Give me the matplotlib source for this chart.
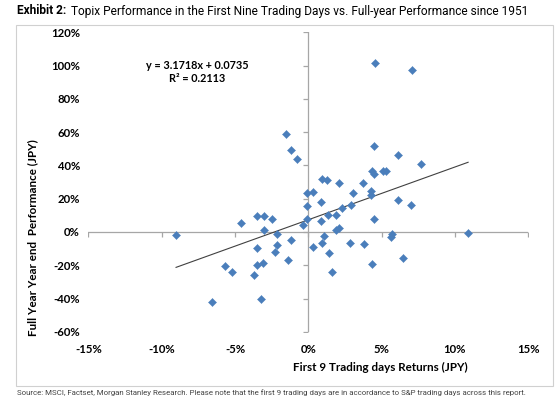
import numpy as np
import matplotlib
matplotlib.use("Agg")
import matplotlib.pyplot as plt
from matplotlib.patches import Rectangle

# First 9 trading days return (%) and full-year return (%)
first9_returns = [-9.02, -6.57, -5.66, -5.2, -4.57, -3.68, -3.52, -3.48, -3.48, -3.25,
                  -3.07, -3.0, -3.0, -2.5, -2.3, -2.16, -2.16, -1.52, -1.41, -1.2,
                  -1.2, -0.79, -0.34, -0.11, -0.11, -0.11,
                  0.34, 0.34, 0.85, 0.85, 0.91, 0.96, 1.07, 1.25, 1.36, 1.41,
                  1.6, 1.89, 1.9, 2.1, 2.12, 2.3, 2.84, 2.93, 3.07, 3.75,
                  3.8, 4.26, 4.3, 4.32, 4.32, 4.48, 4.48, 4.5, 4.55, 5.07,
                  5.3, 5.64, 5.69, 6.14, 6.14, 6.44, 6.98, 7.05, 7.69, 10.9]
full_year_returns = [-2.0, -42.0, -20.4, -24.0, 5.6, -25.9, -19.8, 9.8, -9.4, -40.1,
                     -18.4, 9.8, 1.2, 8.0, -12.0, -1.0, -7.8, 58.7, -16.6, 49.3,
                     -4.7, 43.7, 4.0, 23.3, 15.4, 8.0,
                     23.9, -9.2, 18.0, 6.8, 31.7, -6.8, -2.2, 31.1, 10.0, -12.4,
                     -23.9, 10.2, 1.5, 2.5, 29.3, 14.6, -6.4, 16.0, 23.5, 29.2,
                     -7.2, 24.8, 22.2, 36.9, -19.2, 34.6, 8.1, 51.7, 101.8, 36.7,
                     36.7, -3.2, -1.2, 46.5, 19.2, -15.8, 16.4, 97.4, 40.9, -0.4]
slope = 3.1718
intercept = 0.0735
x_ticks = [-15, -10, -5, 0, 5, 10, 15]
y_ticks = [-60, -40, -20, 0, 20, 40, 60, 80, 100, 120]
x_tick_labels = [f"{t}%" for t in x_ticks]
y_tick_labels = [f"{t}%" for t in y_ticks]

W, H = 560, 400
fig = plt.figure(figsize=(W / 100, H / 100), dpi=100)

# outer chart box
fig.patches.append(Rectangle((16 / W, 1 - 386 / H), (553 - 16) / W, (386 - 25) / H,
                             transform=fig.transFigure, fill=False,
                             edgecolor="#d0d0d0", linewidth=0.8))

ax = fig.add_axes([88.4 / W, 1 - 331.8 / H, (528.2 - 88.4) / W, (331.8 - 32.4) / H])
ax.set_xlim(-15, 15)
ax.set_ylim(-60, 120)
for s in ax.spines.values():
    s.set_visible(False)

axis_col = "#a6a6a6"
ax.axhline(0, color=axis_col, lw=0.9, zorder=1)
ax.axvline(0, color=axis_col, lw=0.9, zorder=1)
# tick marks on the zero axes
ax.plot(x_ticks, [0] * len(x_ticks), linestyle="none", marker=3, markersize=3.5,
        color=axis_col, markeredgewidth=0.9, zorder=1)
ax.plot([0] * len(y_ticks), y_ticks, linestyle="none", marker=0, markersize=3.5,
        color=axis_col, markeredgewidth=0.9, zorder=1)

ax.set_xticks(x_ticks)
ax.set_xticklabels(x_tick_labels)
ax.set_yticks(y_ticks)
ax.set_yticklabels(y_tick_labels)
ax.tick_params(axis="both", length=0, labelsize=8.2, colors="#000000")
ax.tick_params(axis="x", pad=8.5)
ax.tick_params(axis="y", pad=6)
for lab in ax.get_xticklabels() + ax.get_yticklabels():
    lab.set_fontfamily("Lato")
    lab.set_fontweight("bold")

# scatter
ax.scatter(first9_returns, full_year_returns, marker="D", s=17, color="#4a7ebb",
           edgecolors="#4a7ebb", linewidths=0.3, zorder=3)

# trend line
xs = np.array([min(first9_returns), max(first9_returns)])
ax.plot(xs, (slope * xs / 100 + intercept) * 100, color="#404040", lw=0.8, zorder=2)

ax.text(-7.6, 100, f"y = {slope}x + {intercept}", ha="center", va="center",
        fontsize=7.8, fontweight="bold", family="Lato")
ax.text(-7.6, 92.5, "R² = 0.2113", ha="center", va="center",
        fontsize=7.8, fontweight="bold", family="Lato")

# axis titles
fig.text(380 / W, 1 - 367 / H, "First 9 Trading days Returns (JPY)", ha="center",
         va="center", fontsize=8.4, fontweight="bold", family="Lato")
fig.text(33 / W, 1 - 238 / H, "Full Year Year end  Performance (JPY)", ha="center",
         va="center", rotation=90, fontsize=8.4, fontweight="bold", family="Lato")

# title
t1 = fig.text(17 / W, 1 - 11 / H, "Exhibit 2:", ha="left", va="center",
              fontsize=8.6, fontweight="bold", family="Roboto")
fig.canvas.draw()
bb = t1.get_window_extent()
fig.text(bb.x1 / W + 5 / W, 1 - 11 / H,
         "Topix Performance in the First Nine Trading Days vs. Full-year Performance since 1951",
         ha="left", va="center", fontsize=8.6, family="Roboto")

fig.text(17 / W, 1 - 393 / H,
         "Source: MSCI, Factset, Morgan Stanley Research. Please note that the first 9 trading days are in accordance to S&P trading days across this report.",
         ha="left", va="center", fontsize=5.7, family="Roboto", color="#444444")

fig.savefig("out.png", dpi=100)
